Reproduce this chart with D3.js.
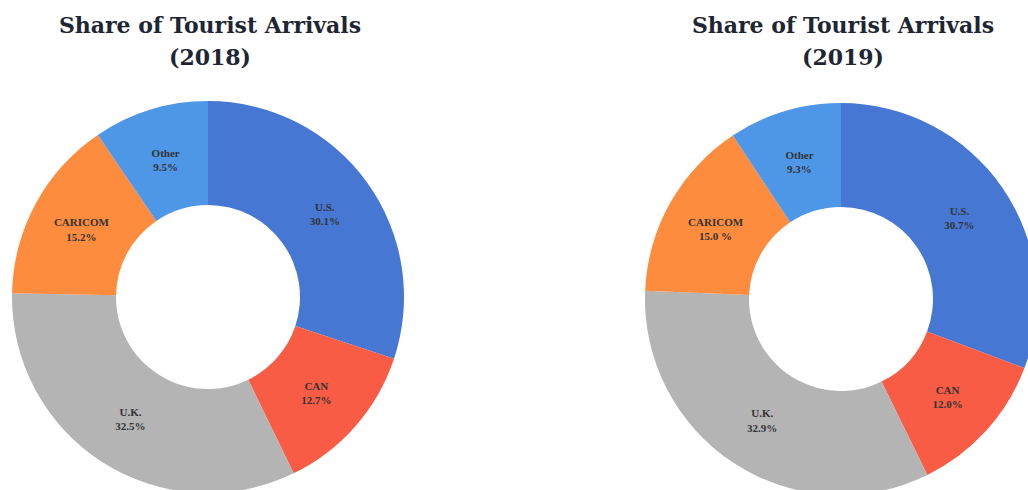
<!DOCTYPE html>
<html>
<head>
<meta charset="utf-8">
<script src="https://cdn.jsdelivr.net/npm/d3@7"></script>
<style>
  body { margin: 0; background: #fff; }
  svg { display: block; }
</style>
</head>
<body>
<div id="chart"></div>
<script>
var categories = ["U.S.", "CAN", "U.K.", "CARICOM", "Other"];
var values2018 = [30.1, 12.7, 32.5, 15.2, 9.5];
var values2019 = [30.7, 12.0, 32.9, 15.0, 9.3];
var labels2018 = ["30.1%", "12.7%", "32.5%", "15.2%", "9.5%"];
var labels2019 = ["30.7%", "12.0%", "32.9%", "15.0 %", "9.3%"];
var years = ["2018", "2019"];

var width = 1028, height = 490;
var colors = d3.scaleOrdinal()
  .domain(categories)
  .range(["#4677d2", "#f85c45", "#b4b4b4", "#fd8c3e", "#4e97e6"]);

var svg = d3.select("#chart").append("svg")
  .attr("width", width)
  .attr("height", height);

var outerR = 196, innerR = 92;
var centers = [[208, 297], [841, 299]];
var allValues = [values2018, values2019];
var allLabels = [labels2018, labels2019];

var pie = d3.pie().sort(null).value(function(d) { return d.v; });
var arc = d3.arc().innerRadius(innerR).outerRadius(outerR);
var labelArc = d3.arc().innerRadius((innerR + outerR) / 2).outerRadius((innerR + outerR) / 2);

years.forEach(function(year, i) {
  var cx = centers[i][0], cy = centers[i][1];
  var data = categories.map(function(c, j) {
    return { name: c, v: allValues[i][j], label: allLabels[i][j] };
  });

  var title = svg.append("text")
    .attr("x", cx + 2)
    .attr("text-anchor", "middle")
    .style("font-family", "'DejaVu Serif', serif")
    .style("font-weight", "bold")
    .style("font-size", "22px")
    .style("fill", "#1e2533");
  title.append("tspan").attr("x", cx + 2).attr("y", 33).text("Share of Tourist Arrivals");
  title.append("tspan").attr("x", cx + 2).attr("y", 65).text("(" + year + ")");

  var g = svg.append("g").attr("transform", "translate(" + cx + "," + cy + ")");
  var arcs = pie(data);

  g.selectAll("path").data(arcs).enter().append("path")
    .attr("d", arc)
    .style("fill", function(d) { return colors(d.data.name); });

  var lbl = g.selectAll("text.lbl").data(arcs).enter().append("text")
    .attr("class", "lbl")
    .attr("text-anchor", "middle")
    .attr("transform", function(d) {
      var c = labelArc.centroid(d);
      return "translate(" + c[0] + "," + c[1] + ")";
    })
    .style("font-family", "'Liberation Serif', serif")
    .style("font-weight", "bold")
    .style("font-size", "11px")
    .style("fill", "#333");
  lbl.append("tspan").attr("x", 0).attr("dy", "-0.2em").text(function(d) { return d.data.name; });
  lbl.append("tspan").attr("x", 0).attr("dy", "1.3em").text(function(d) { return d.data.label; });
});
</script>
</body>
</html>
